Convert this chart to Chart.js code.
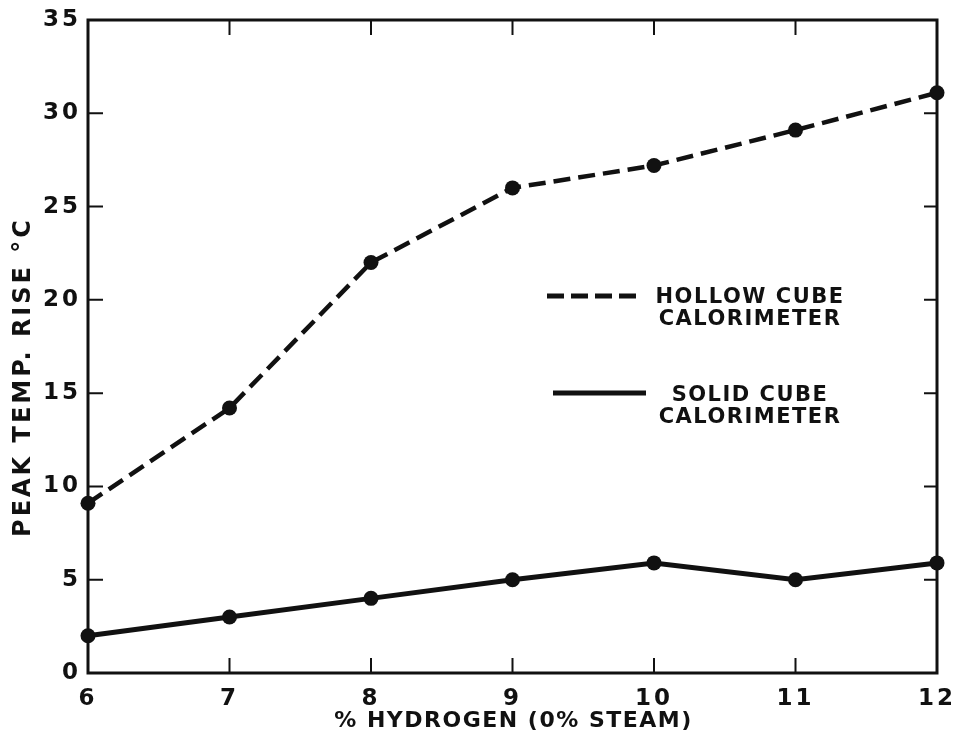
<!DOCTYPE html>
<html>
<head>
<meta charset="utf-8">
<script src="https://cdn.jsdelivr.net/npm/chart.js@4"></script>
<style>
  html, body { margin: 0; padding: 0; background: #fff; }
  #wrap { width: 958px; height: 742px; }
</style>
</head>
<body>
<div id="wrap"><canvas id="chart" width="958" height="742"></canvas></div>
<script>
// % hydrogen (0% steam) vs peak temperature rise
const hydrogen = [6, 7, 8, 9, 10, 11, 12];
const hollowCube = [9.1, 14.2, 22.0, 26.0, 27.2, 29.1, 31.1];
const solidCube = [2.0, 3.0, 4.0, 5.0, 5.9, 5.0, 5.9];

const xTitle = '% HYDROGEN (0% STEAM)';
const yTitle = 'PEAK TEMP. RISE °C';
const legendItems = [
  { lines: ['HOLLOW CUBE', 'CALORIMETER'], dash: [17, 7] },
  { lines: ['SOLID CUBE', 'CALORIMETER'], dash: [] }
];

const FONT = 'DejaVu Sans';
const INK = '#111';

const toPoints = (ys) => hydrogen.map((x, i) => ({ x: x, y: ys[i] }));

// frame, inward ticks, axis titles and the in-plot legend
const paperPlugin = {
  id: 'paper',
  beforeDraw(chart) {
    // wide lettering like the old stencil font
    chart.ctx.letterSpacing = '3px';
  },
  beforeDatasetsDraw(chart) {
    const { ctx, chartArea: a, scales: { x, y } } = chart;
    ctx.save();
    ctx.strokeStyle = INK;
    ctx.lineWidth = 3;
    ctx.strokeRect(a.left, a.top, a.width, a.height);

    ctx.lineWidth = 2;
    ctx.beginPath();
    x.ticks.forEach(t => {
      if (t.value <= 6 || t.value >= 12) return;
      const px = x.getPixelForValue(t.value);
      ctx.moveTo(px, a.bottom); ctx.lineTo(px, a.bottom - 15);
      ctx.moveTo(px, a.top); ctx.lineTo(px, a.top + 15);
    });
    y.ticks.forEach(t => {
      if (t.value <= 0 || t.value >= 35) return;
      const py = y.getPixelForValue(t.value);
      ctx.moveTo(a.left, py); ctx.lineTo(a.left + 15, py);
      ctx.moveTo(a.right, py); ctx.lineTo(a.right - 13, py);
    });
    ctx.stroke();
    ctx.restore();
  },
  afterDraw(chart) {
    const { ctx, chartArea: a } = chart;
    ctx.save();
    ctx.fillStyle = INK;
    ctx.textAlign = 'center';
    ctx.textBaseline = 'middle';
    ctx.letterSpacing = '1.5px';
    ctx.font = 'bold 22px "' + FONT + '"';
    ctx.fillText(xTitle, (a.left + a.right) / 2 + 1, 721);

    ctx.letterSpacing = '3px';
    ctx.font = 'bold 24px "' + FONT + '"';
    ctx.translate(24, 377);
    ctx.rotate(-Math.PI / 2);
    ctx.fillText(yTitle, 0, 0);
    ctx.restore();

    // legend
    ctx.save();
    ctx.fillStyle = INK;
    ctx.strokeStyle = INK;
    ctx.lineWidth = 5;
    ctx.letterSpacing = '1.5px';
    ctx.font = 'bold 21px "' + FONT + '"';
    ctx.textAlign = 'center';
    ctx.textBaseline = 'middle';
    const rows = [
      { lx0: 547, lx1: 640, ly: 296, ty: 298 },
      { lx0: 553, lx1: 646, ly: 393, ty: 396 }
    ];
    legendItems.forEach((item, i) => {
      const r = rows[i];
      ctx.setLineDash(item.dash);
      ctx.beginPath();
      ctx.moveTo(r.lx0, r.ly); ctx.lineTo(r.lx1, r.ly);
      ctx.stroke();
      item.lines.forEach((txt, j) => ctx.fillText(txt, 750, r.ty + j * 22));
    });
    ctx.restore();
  }
};

new Chart(document.getElementById('chart'), {
  type: 'line',
  data: {
    datasets: [
      {
        label: 'HOLLOW CUBE CALORIMETER',
        data: toPoints(hollowCube),
        borderColor: INK,
        backgroundColor: INK,
        borderWidth: 4.5,
        borderDash: [17, 8],
        pointRadius: 7.5,
        pointBackgroundColor: INK,
        pointBorderWidth: 0,
        tension: 0,
        clip: false
      },
      {
        label: 'SOLID CUBE CALORIMETER',
        data: toPoints(solidCube),
        borderColor: INK,
        backgroundColor: INK,
        borderWidth: 5,
        pointRadius: 7.5,
        pointBackgroundColor: INK,
        pointBorderWidth: 0,
        tension: 0,
        clip: false
      }
    ]
  },
  options: {
    responsive: false,
    animation: false,
    layout: { padding: { top: 20, right: 21, left: 0, bottom: 0 } },
    plugins: {
      legend: { display: false },
      tooltip: { enabled: false }
    },
    scales: {
      x: {
        type: 'linear',
        min: 6,
        max: 12,
        grid: { display: false, drawTicks: false },
        border: { display: false },
        ticks: {
          stepSize: 1,
          padding: 12,
          color: INK,
          font: { family: FONT, size: 23, weight: 'bold' }
        },
        afterFit: (scale) => {
          scale.height = 69;
          scale.paddingLeft = 0;
          scale.paddingRight = 0;
        }
      },
      y: {
        min: 0,
        max: 35,
        grid: { display: false, drawTicks: false },
        border: { display: false },
        ticks: {
          stepSize: 5,
          padding: 7,
          color: INK,
          font: { family: FONT, size: 23, weight: 'bold' }
        },
        afterFit: (scale) => {
          scale.width = 88;
          scale.paddingTop = 0;
          scale.paddingBottom = 0;
        }
      }
    }
  },
  plugins: [paperPlugin]
});
</script>
</body>
</html>
